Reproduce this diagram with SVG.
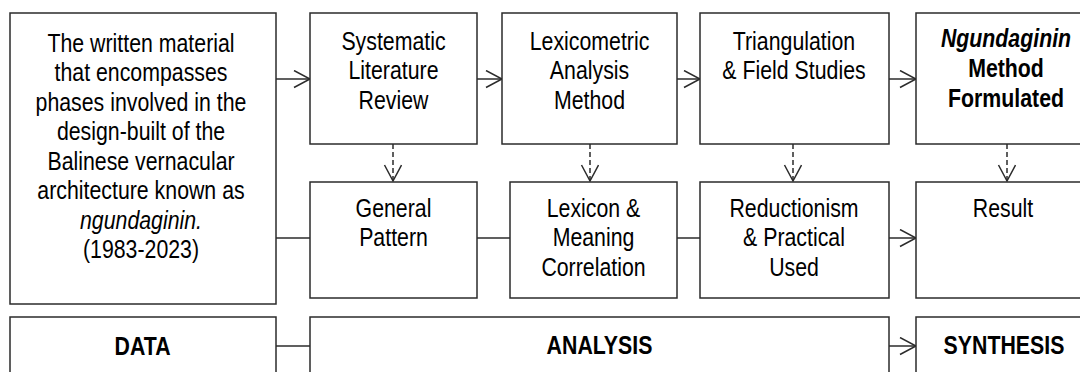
<svg xmlns="http://www.w3.org/2000/svg" width="1080" height="372" viewBox="0 0 1080 372">
<defs>
<style>
.box{fill:#fff;stroke:#2b2b2b;stroke-width:1.5}
.t{font-family:"Liberation Sans Narrow","Liberation Sans",Arial,sans-serif;font-size:26px;fill:#000;text-anchor:middle}
.b{font-weight:bold}
.i{font-style:italic}
.c{fill:none;stroke:#2b2b2b;stroke-width:1.5}
.d{stroke-dasharray:5 3}
</style>
<marker id="ah" markerUnits="userSpaceOnUse" markerWidth="20" markerHeight="20" viewBox="0 0 20 20" refX="17" refY="9" orient="auto">
<path d="M1,0.5 L17,9 L1,17.5" fill="none" stroke="#2b2b2b" stroke-width="1.5" stroke-dasharray="none"/>
</marker>
</defs>
<rect width="1080" height="372" fill="#fff"/>
<g id="connectors">
<line class="c" x1="276" y1="79" x2="310" y2="79" marker-end="url(#ah)"/>
<line class="c" x1="276" y1="238" x2="310" y2="238"/>
<line class="c" x1="477" y1="79" x2="502" y2="79" marker-end="url(#ah)"/>
<line class="c" x1="677" y1="79" x2="700" y2="79" marker-end="url(#ah)"/>
<line class="c" x1="889" y1="79" x2="916" y2="79" marker-end="url(#ah)"/>
<line class="c" x1="477" y1="238" x2="510" y2="238"/>
<line class="c" x1="677" y1="238" x2="700" y2="238"/>
<line class="c" x1="889" y1="238" x2="916" y2="238" marker-end="url(#ah)"/>
<line class="c d" x1="393" y1="144" x2="393" y2="181" marker-end="url(#ah)"/>
<line class="c d" x1="590" y1="144" x2="590" y2="181" marker-end="url(#ah)"/>
<line class="c d" x1="793" y1="144" x2="793" y2="181" marker-end="url(#ah)"/>
<line class="c d" x1="1007" y1="144" x2="1007" y2="181" marker-end="url(#ah)"/>
<line class="c" x1="276" y1="346" x2="310" y2="346"/>
<line class="c" x1="889" y1="346" x2="916" y2="346" marker-end="url(#ah)"/>
</g>
<g id="source">
<rect class="box" x="10" y="13" width="266" height="291"/>
<text class="t" transform="matrix(0.82 0 0 1 141 0)"><tspan x="0" y="52">The written material</tspan><tspan x="0" y="81.5">that encompasses</tspan><tspan x="0" y="111">phases involved in the</tspan><tspan x="0" y="140.5">design-built of the</tspan><tspan x="0" y="170">Balinese vernacular</tspan><tspan x="0" y="199.5">architecture known as</tspan><tspan x="0" y="229" class="i">ngundaginin.</tspan><tspan x="0" y="258.5">(1983-2023)</tspan></text>
</g>
<g id="slr">
<rect class="box" x="310" y="13" width="167" height="131"/>
<text class="t" transform="matrix(0.82 0 0 1 393.5 0)"><tspan x="0" y="50">Systematic</tspan><tspan x="0" y="79.5">Literature</tspan><tspan x="0" y="109">Review</tspan></text>
</g>
<g id="lexicometric">
<rect class="box" x="502" y="13" width="175" height="131"/>
<text class="t" transform="matrix(0.82 0 0 1 589.5 0)"><tspan x="0" y="50">Lexicometric</tspan><tspan x="0" y="79.5">Analysis</tspan><tspan x="0" y="109">Method</tspan></text>
</g>
<g id="triangulation">
<rect class="box" x="700" y="13" width="189" height="131"/>
<text class="t" transform="matrix(0.82 0 0 1 794 0)"><tspan x="0" y="50">Triangulation</tspan><tspan x="0" y="79.5">&amp; Field Studies</tspan></text>
</g>
<g id="formulated">
<rect class="box" x="916" y="13" width="180" height="131"/>
<text class="t b" transform="matrix(0.82 0 0 1 1006 0)"><tspan x="0" y="47" class="i">Ngundaginin</tspan><tspan x="0" y="77">Method</tspan><tspan x="0" y="107">Formulated</tspan></text>
</g>
<g id="general">
<rect class="box" x="310" y="182" width="167" height="116"/>
<text class="t" transform="matrix(0.82 0 0 1 393.5 0)"><tspan x="0" y="217">General</tspan><tspan x="0" y="246.5">Pattern</tspan></text>
</g>
<g id="lexicon">
<rect class="box" x="510" y="182" width="167" height="116"/>
<text class="t" transform="matrix(0.82 0 0 1 593.5 0)"><tspan x="0" y="217">Lexicon &amp;</tspan><tspan x="0" y="246.5">Meaning</tspan><tspan x="0" y="276">Correlation</tspan></text>
</g>
<g id="reductionism">
<rect class="box" x="700" y="182" width="189" height="116"/>
<text class="t" transform="matrix(0.82 0 0 1 794 0)"><tspan x="0" y="217">Reductionism</tspan><tspan x="0" y="246.5">&amp; Practical</tspan><tspan x="0" y="276">Used</tspan></text>
</g>
<g id="result">
<rect class="box" x="916" y="182" width="180" height="116"/>
<text class="t" transform="matrix(0.82 0 0 1 1003 0)" x="0" y="217">Result</text>
</g>
<g id="data">
<rect class="box" x="10" y="317" width="266" height="70"/>
<text class="t b" transform="matrix(0.82 0 0 1 142.5 0)" x="0" y="355">DATA</text>
</g>
<g id="analysis">
<rect class="box" x="310" y="317" width="579" height="70"/>
<text class="t b" transform="matrix(0.82 0 0 1 599.5 0)" x="0" y="354">ANALYSIS</text>
</g>
<g id="synthesis">
<rect class="box" x="916" y="317" width="180" height="70"/>
<text class="t b" transform="matrix(0.82 0 0 1 1004 0)" x="0" y="354">SYNTHESIS</text>
</g>
</svg>
